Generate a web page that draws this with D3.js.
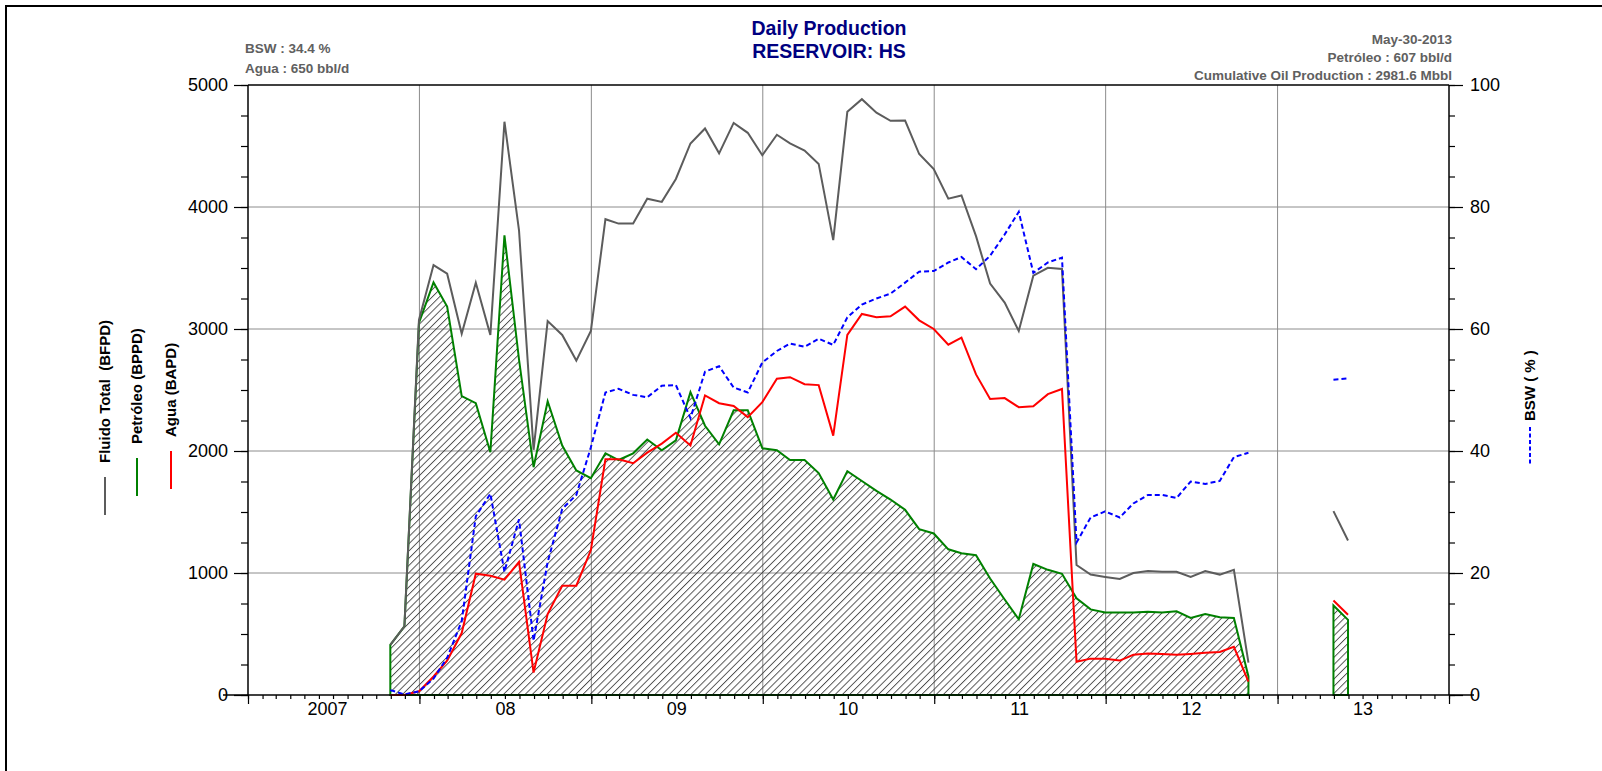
<!DOCTYPE html>
<html>
<head>
<meta charset="utf-8">
<script src="https://cdn.jsdelivr.net/npm/d3@7"></script>
<style>
  html, body { margin: 0; padding: 0; background: #fff; }
  svg { display: block; font-family: "Liberation Sans", Arial, sans-serif; }
</style>
</head>
<body>
<svg id="chart" width="1602" height="771"></svg>
<script>
// ---- Data (monthly, end of month, starting Oct 2007) ----
const startYear = 2007, startMonth = 9; // October 2007 (0-based month)
const fluidoTotal = [411, 563, 3074, 3524, 3453, 2961, 3379, 2951, 4699, 3809, 2010, 3065, 2951, 2741, 2984,
  3900, 3864, 3864, 4068, 4042, 4230, 4521, 4644, 4440, 4689, 4608, 4424,
  4592, 4521, 4463, 4353, 3728, 4780, 4884, 4773, 4706, 4709, 4434, 4311,
  4068, 4094, 3761, 3372, 3217, 2984, 3437, 3502, 3492, 1065, 987, 968,
  951, 1000, 1016, 1010, 1010, 968, 1016, 987, 1026, 265,
  null, null, null, null, null, 1507, 1266];
const petroleo = [411, 563, 3049, 3382, 3184, 2450, 2392, 1990, 3767, 2750, 1867, 2408, 2045, 1841, 1777,
  1981, 1926, 1981, 2094, 2006, 2087, 2482, 2207, 2055, 2333, 2333, 2023,
  2006, 1926, 1926, 1819, 1602, 1835, 1754, 1673, 1602, 1518, 1359, 1324,
  1194, 1162, 1146, 955, 783, 621, 1074, 1026, 994, 793, 702, 676,
  676, 676, 683, 676, 686, 631, 663, 638, 631, 152,
  null, null, null, null, null, 734, 616];
const agua = [0, 0, 30, 152, 282, 508, 994, 977, 945, 1091, 184, 663, 896, 896, 1188,
  1932, 1932, 1900, 1987, 2061, 2149, 2045, 2456, 2392, 2369, 2278, 2401,
  2592, 2605, 2547, 2540, 2126, 2951, 3123, 3097, 3104, 3184, 3071, 3000,
  2871, 2929, 2628, 2427, 2434, 2359, 2366, 2466, 2508, 272, 298, 298,
  282, 330, 340, 337, 330, 337, 346, 353, 395, 110,
  null, null, null, null, null, 775, 658];
const bsw = [0.8, 0.1, 0.6, 2.7, 6.1, 12.1, 29.3, 33.0, 20.2, 28.8, 8.9, 21.8, 30.5, 32.8, 40.6,
  49.6, 50.2, 49.2, 48.8, 50.7, 50.8, 45.4, 53.0, 53.9, 50.4, 49.6, 54.5,
  56.4, 57.6, 57.1, 58.4, 57.4, 61.9, 64.0, 65.0, 65.8, 67.6, 69.4, 69.5,
  70.9, 71.8, 69.8, 72.0, 75.5, 79.2, 69.2, 70.9, 71.7, 25.0, 29.1, 30.1,
  29.1, 31.4, 32.8, 32.8, 32.3, 35.0, 34.6, 35.1, 39.0, 39.7,
  null, null, null, null, null, 51.7, 51.9];
const yearLabels = ["2007", "08", "09", "10", "11", "12", "13"];
const leftTicks = [0, 1000, 2000, 3000, 4000, 5000];
const rightTicks = [0, 20, 40, 60, 80, 100];
const titleLines = ["Daily Production", "RESERVOIR: HS"];
const infoLeft = ["BSW : 34.4 %", "Agua : 650 bbl/d"];
const infoRight = ["May-30-2013", "Petróleo : 607 bbl/d", "Cumulative Oil Production : 2981.6 Mbbl"];

// ---- Layout ----
const L = 248, R = 1449, T = 85, B = 695;
const svg = d3.select("#chart");

const dates = fluidoTotal.map((_, i) => new Date(startYear, startMonth + i + 1, 0));
const x = d3.scaleTime().domain([new Date(2007, 0, 1), new Date(2014, 0, 1)]).range([L, R]);
const yL = d3.scaleLinear().domain([0, 5000]).range([B, T]);
const yR = d3.scaleLinear().domain([0, 100]).range([B, T]);

// frame
svg.append("line").attr("x1", 5).attr("x2", 1602).attr("y1", 6).attr("y2", 6).attr("stroke", "#000").attr("stroke-width", 2);
svg.append("line").attr("x1", 6).attr("x2", 6).attr("y1", 5).attr("y2", 771).attr("stroke", "#000").attr("stroke-width", 2);

// hatch pattern
const defs = svg.append("defs");
const pat = defs.append("pattern").attr("id", "hatch").attr("patternUnits", "userSpaceOnUse")
  .attr("width", 5.1).attr("height", 5.1).attr("patternTransform", "rotate(45)");
pat.append("line").attr("x1", 0.5).attr("x2", 0.5).attr("y1", 0).attr("y2", 5.1)
  .attr("stroke", "#3c3c3c").attr("stroke-width", 0.85);

// grid
const years = d3.range(2008, 2014).map(yv => new Date(yv, 0, 1));
svg.append("g").selectAll("line").data(years).join("line")
  .attr("x1", d => x(d)).attr("x2", d => x(d)).attr("y1", T).attr("y2", B)
  .attr("stroke", "#8c8c8c").attr("stroke-width", 1);
svg.append("g").selectAll("line").data([1000, 2000, 3000, 4000]).join("line")
  .attr("x1", L).attr("x2", R).attr("y1", d => yL(d)).attr("y2", d => yL(d))
  .attr("stroke", "#8c8c8c").attr("stroke-width", 1);

// series
const idx = d3.range(fluidoTotal.length);
const area = d3.area().defined(i => petroleo[i] != null)
  .x(i => x(dates[i])).y0(yL(0)).y1(i => yL(petroleo[i]));
svg.append("path").attr("d", area(idx)).attr("fill", "url(#hatch)")
  .attr("stroke", "#008000").attr("stroke-width", 2).attr("stroke-linejoin", "miter");

const lineOf = (arr, sc) => d3.line().defined(i => arr[i] != null).x(i => x(dates[i])).y(i => sc(arr[i]));
svg.append("path").attr("d", lineOf(agua, yL)(idx)).attr("fill", "none").attr("stroke", "#ff0000").attr("stroke-width", 2);
svg.append("path").attr("d", lineOf(fluidoTotal, yL)(idx)).attr("fill", "none").attr("stroke", "#5c5c5c").attr("stroke-width", 2);
svg.append("path").attr("d", lineOf(bsw, yR)(idx)).attr("fill", "none").attr("stroke", "#0000ff").attr("stroke-width", 2).attr("stroke-dasharray", "5,3");

// box top
svg.append("line").attr("x1", L).attr("x2", R).attr("y1", T).attr("y2", T).attr("stroke", "#000").attr("stroke-width", 1.5);

// axes
function styleAxis(g) {
  g.select(".domain").remove();
  g.selectAll("line").attr("stroke", "#000").attr("stroke-width", 1.2);
  g.selectAll("text").attr("font-size", 18).attr("fill", "#000").attr("font-family", "'Liberation Sans', Arial, sans-serif");
}
// bottom: minor monthly ticks, major yearly ticks
svg.append("g").attr("transform", `translate(0,${B})`)
  .call(d3.axisBottom(x).ticks(d3.timeMonth.every(1)).tickSize(4).tickFormat(""))
  .call(styleAxis);
svg.append("g").attr("transform", `translate(0,${B})`)
  .call(d3.axisBottom(x).ticks(d3.timeYear.every(1)).tickSize(9).tickFormat(""))
  .call(styleAxis);
svg.append("line").attr("x1", L - 25).attr("x2", R).attr("y1", B).attr("y2", B).attr("stroke", "#000").attr("stroke-width", 1.5);
svg.append("line").attr("x1", R).attr("x2", R + 25).attr("y1", B).attr("y2", B).attr("stroke", "#000").attr("stroke-width", 1.5);
svg.append("g").selectAll("text").data(yearLabels).join("text")
  .attr("x", (d, i) => x(new Date(2007 + i, 6, 2)) - (i === 0 ? 6 : 0))
  .attr("y", 715).attr("text-anchor", "middle").attr("font-size", 18).text(d => d);

// left axis
svg.append("g").attr("transform", `translate(${L},0)`)
  .call(d3.axisLeft(yL).tickValues(d3.range(0, 5001, 250)).tickSize(7).tickFormat(""))
  .call(styleAxis);
svg.append("g").attr("transform", `translate(${L},0)`)
  .call(d3.axisLeft(yL).tickValues(leftTicks).tickSize(14).tickPadding(6).tickFormat(d3.format("d")))
  .call(styleAxis);
svg.append("line").attr("x1", L).attr("x2", L).attr("y1", T).attr("y2", B).attr("stroke", "#000").attr("stroke-width", 1.5);

// right axis
svg.append("g").attr("transform", `translate(${R},0)`)
  .call(d3.axisRight(yR).tickValues(d3.range(0, 101, 5)).tickSize(6).tickFormat(""))
  .call(styleAxis);
svg.append("g").attr("transform", `translate(${R},0)`)
  .call(d3.axisRight(yR).tickValues(rightTicks).tickSize(14).tickPadding(7).tickFormat(d3.format("d")))
  .call(styleAxis);
svg.append("line").attr("x1", R).attr("x2", R).attr("y1", T).attr("y2", B).attr("stroke", "#000").attr("stroke-width", 1.5);

// titles
svg.append("g").selectAll("text").data(titleLines).join("text")
  .attr("x", 829).attr("y", (d, i) => 35 + i * 23).attr("text-anchor", "middle")
  .attr("font-size", 19.5).attr("font-weight", "bold").attr("fill", "#000080").text(d => d);
svg.append("g").selectAll("text").data(infoLeft).join("text")
  .attr("x", 245).attr("y", (d, i) => 53 + i * 20)
  .attr("font-size", 13.5).attr("font-weight", "bold").attr("fill", "#606060").text(d => d);
svg.append("g").selectAll("text").data(infoRight).join("text")
  .attr("x", 1452).attr("y", (d, i) => 44 + i * 18).attr("text-anchor", "end")
  .attr("font-size", 13.5).attr("font-weight", "bold").attr("fill", "#606060").text(d => d);

// legends (rotated)
const legendItems = [
  { label: "Fluido Total\u00a0 (BFPD)", color: "#5c5c5c", cx: 105, top: 477, dash: null },
  { label: "Petróleo (BPPD)", color: "#008000", cx: 137, top: 458, dash: null },
  { label: "Agua (BAPD)", color: "#ff0000", cx: 171, top: 451, dash: null },
  { label: "BSW ( % )", color: "#0000ff", cx: 1530, top: 427, dash: "4,2.5" }
];
legendItems.forEach(it => {
  svg.append("line").attr("x1", it.cx).attr("x2", it.cx).attr("y1", it.top).attr("y2", it.top + 38)
    .attr("stroke", it.color).attr("stroke-width", 2).attr("stroke-dasharray", it.dash);
  const ty = it.top - (it.dash ? 6 : 14);
  svg.append("text").attr("x", it.cx).attr("y", ty).attr("dy", "0.35em")
    .attr("transform", `rotate(-90,${it.cx},${ty})`)
    .attr("font-size", 15).attr("font-weight", "bold").attr("fill", "#000").text(it.label);
});
</script>
</body>
</html>
